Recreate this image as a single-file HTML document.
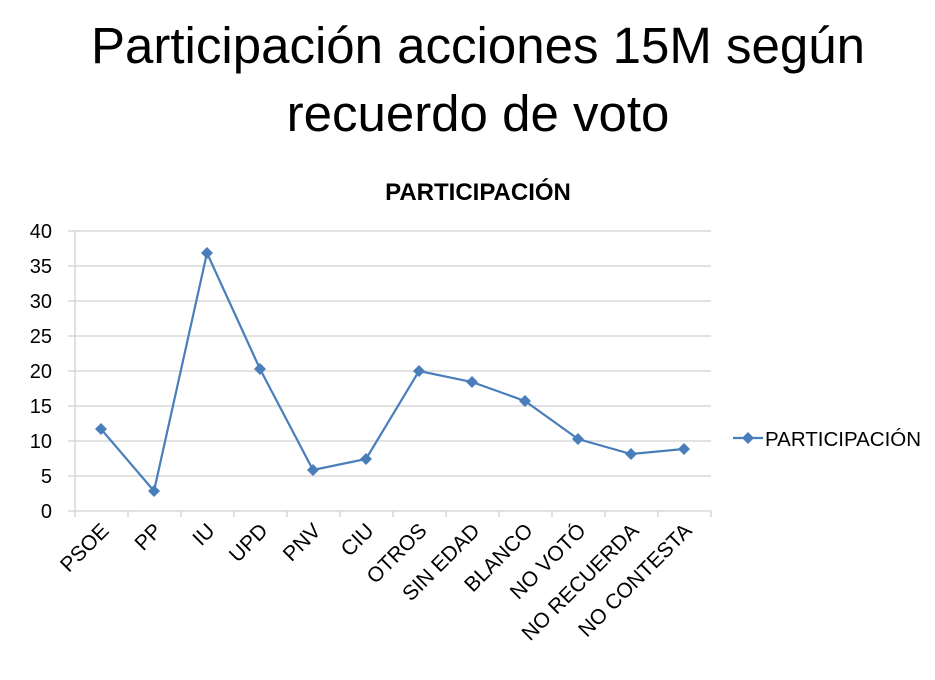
<!DOCTYPE html>
<html><head><meta charset="utf-8"><style>body{margin:0;background:#fff}svg{display:block}</style></head><body>
<svg width="935" height="680" xmlns="http://www.w3.org/2000/svg" font-family="Liberation Sans, DejaVu Sans, sans-serif">
<text x="478" y="63" font-size="51" text-anchor="middle" fill="#000">Participación acciones 15M según</text>
<text x="478" y="131" font-size="51" text-anchor="middle" fill="#000">recuerdo de voto</text>
<text x="478" y="200" font-size="24" font-weight="bold" text-anchor="middle">PARTICIPACIÓN</text>
<g stroke="#d0d0d0" stroke-width="1.3">
<line x1="68" y1="231" x2="711" y2="231"/><line x1="68" y1="266" x2="711" y2="266"/><line x1="68" y1="301" x2="711" y2="301"/><line x1="68" y1="336" x2="711" y2="336"/><line x1="68" y1="371" x2="711" y2="371"/><line x1="68" y1="406" x2="711" y2="406"/><line x1="68" y1="441" x2="711" y2="441"/><line x1="68" y1="476" x2="711" y2="476"/><line x1="68" y1="511" x2="711" y2="511"/>
<line x1="75" y1="231" x2="75" y2="517"/>
<line x1="128" y1="511" x2="128" y2="517"/><line x1="181" y1="511" x2="181" y2="517"/><line x1="234" y1="511" x2="234" y2="517"/><line x1="287" y1="511" x2="287" y2="517"/><line x1="340" y1="511" x2="340" y2="517"/><line x1="393" y1="511" x2="393" y2="517"/><line x1="446" y1="511" x2="446" y2="517"/><line x1="499" y1="511" x2="499" y2="517"/><line x1="552" y1="511" x2="552" y2="517"/><line x1="605" y1="511" x2="605" y2="517"/><line x1="658" y1="511" x2="658" y2="517"/><line x1="711" y1="511" x2="711" y2="517"/>
</g>
<g font-size="20" text-anchor="end" fill="#000">
<text x="52" y="238">40</text><text x="52" y="273">35</text><text x="52" y="308">30</text><text x="52" y="343">25</text><text x="52" y="378">20</text><text x="52" y="413">15</text><text x="52" y="448">10</text><text x="52" y="483">5</text><text x="52" y="518">0</text>
</g>
<g font-size="21" text-anchor="end">
<text transform="translate(110,532) rotate(-45)">PSOE</text>
<text transform="translate(163,532) rotate(-45)">PP</text>
<text transform="translate(216,532) rotate(-45)">IU</text>
<text transform="translate(269,532) rotate(-45)">UPD</text>
<text transform="translate(322,532) rotate(-45)">PNV</text>
<text transform="translate(375,532) rotate(-45)">CIU</text>
<text transform="translate(428,532) rotate(-45)">OTROS</text>
<text transform="translate(481,532) rotate(-45)">SIN EDAD</text>
<text transform="translate(534,532) rotate(-45)">BLANCO</text>
<text transform="translate(587,532) rotate(-45)">NO VOTÓ</text>
<text transform="translate(640,532) rotate(-45)">NO RECUERDA</text>
<text transform="translate(693,532) rotate(-45)">NO CONTESTA</text>
</g>
<polyline fill="none" stroke="#4a7ebb" stroke-width="2.2" points="101,429 154,491 207,253 260,369 313,470 366,459 419,371 472,382 525,401 578,439 631,454 684,449"/>
<g fill="#4a7ebb">
<path d="M101,423l6,6-6,6-6-6z"/><path d="M154,485l6,6-6,6-6-6z"/><path d="M207,247l6,6-6,6-6-6z"/><path d="M260,363l6,6-6,6-6-6z"/><path d="M313,464l6,6-6,6-6-6z"/><path d="M366,453l6,6-6,6-6-6z"/><path d="M419,365l6,6-6,6-6-6z"/><path d="M472,376l6,6-6,6-6-6z"/><path d="M525,395l6,6-6,6-6-6z"/><path d="M578,433l6,6-6,6-6-6z"/><path d="M631,448l6,6-6,6-6-6z"/><path d="M684,443l6,6-6,6-6-6z"/>
</g>
<line x1="733" y1="438" x2="763" y2="438" stroke="#4a7ebb" stroke-width="2.2"/>
<path d="M748,432l6,6-6,6-6-6z" fill="#4a7ebb"/>
<text x="765" y="446" font-size="20.5">PARTICIPACIÓN</text>
</svg>
</body></html>
